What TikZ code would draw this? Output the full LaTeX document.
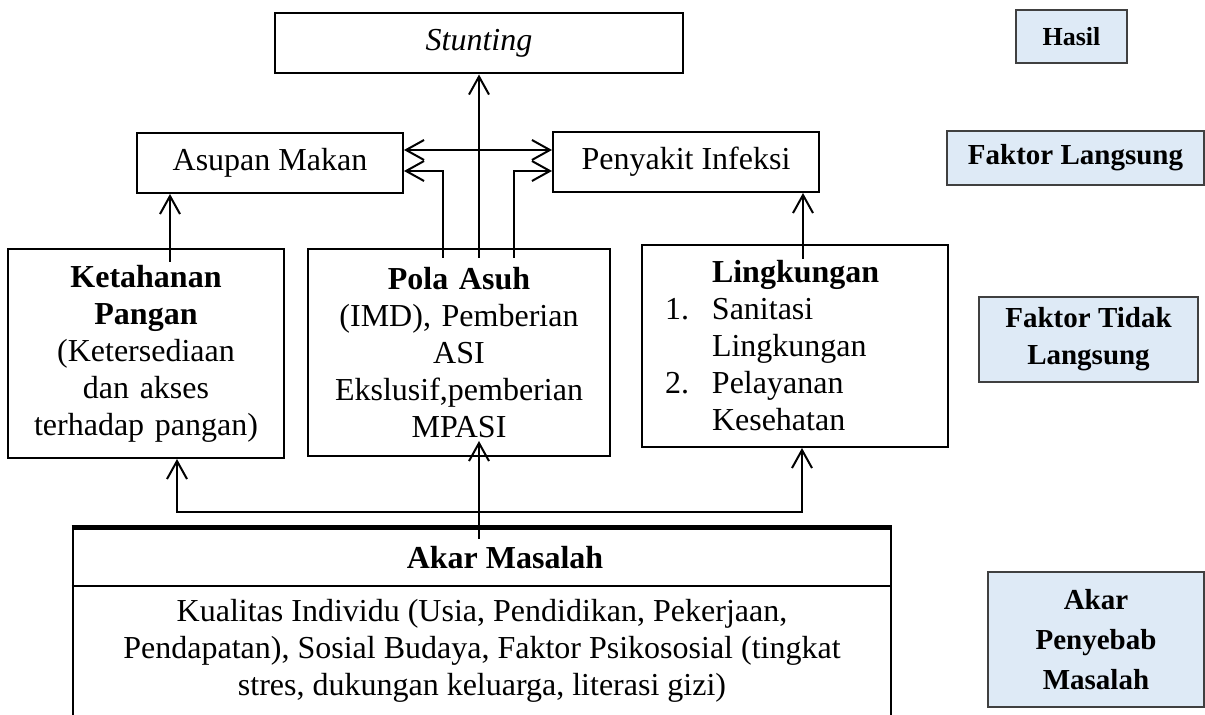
\documentclass[tikz,border=0pt]{standalone}
\usepackage{fontspec}
\setmainfont{Liberation Serif}
\usetikzlibrary{positioning, arrows.meta}
\definecolor{LabelBlue}{HTML}{DEEAF6}
\definecolor{LabelEdge}{HTML}{404040}
\tikzset{
    mainbox/.style={rectangle, draw=black, line width=1pt, inner sep=0pt, align=center, font=\fontsize{16}{18.5}\selectfont},
    labelbox/.style={rectangle, draw=LabelEdge, line width=0.7pt, fill=LabelBlue, inner sep=0pt, align=center, font=\bfseries\fontsize{14.5}{18.5}\selectfont},
    plaintext/.style={inner sep=0pt, align=center, font=\fontsize{16}{18.5}\selectfont},
    arrow/.style={-{Straight Barb[length=9pt, width=10pt]}, line width=1pt},
    twoarrow/.style={{Straight Barb[length=9pt, width=10pt]}-{Straight Barb[length=9pt, width=10pt]}, line width=1pt},
}

\begin{document}
\begin{tikzpicture}[x=0.5pt, y=-0.5pt]
    \clip (0,0) rectangle (1205,715);

    % Hasil
    \node[mainbox, minimum width=204pt, minimum height=30pt, font=\itshape\fontsize{16}{18.5}\selectfont] (stunting) at (479,43.5) {Stunting};

    % Faktor langsung
    \node[mainbox, minimum width=133pt, minimum height=30pt] (asupan) at (270,163) {Asupan Makan};
    \node[mainbox, minimum width=133pt, minimum height=30pt] (infeksi) at (686,162) {Penyakit Infeksi};

    % Faktor tidak langsung
    \node[mainbox, minimum width=138pt, minimum height=104.5pt, text width=132pt] (ketahanan) at (146,353.5)
        {\textbf{Ketahanan}\\\textbf{Pangan}\\(Ketersediaan\\dan akses\\terhadap pangan)};
    \node[mainbox, minimum width=151pt, minimum height=103.5pt, text width=148pt] (polaasuh) at (459,352.5)
        {\textbf{Pola Asuh}\\(IMD), Pemberian\\ASI\\Ekslusif,pemberian\\MPASI};
    \node[mainbox, minimum width=153pt, minimum height=101pt, text width=130pt, align=left] (lingkungan) at (795,346)
        {\hspace*{23.5pt}\textbf{Lingkungan}\\
         \makebox[23.5pt][l]{1.}Sanitasi\\
         \hspace*{23.5pt}Lingkungan\\
         \makebox[23.5pt][l]{2.}Pelayanan\\
         \hspace*{23.5pt}Kesehatan};

    % Akar masalah
    \node[mainbox, minimum width=409pt, minimum height=109.5pt, line width=1.3pt, anchor=north] (akar) at (482,527) {};
    \draw[line width=1pt] (akar.west |- 0,586) -- (akar.east |- 0,586);
    \draw[line width=1.8pt] (akar.north west) -- (akar.north east);
    \node[plaintext, font=\bfseries\fontsize{16}{18.5}\selectfont] (akarjudul) at (505,558) {Akar Masalah};
    \node[plaintext] (akarteks) at (482,651)
        {Kualitas Individu (Usia, Pendidikan, Pekerjaan,\\Pendapatan), Sosial Budaya, Faktor Psikososial (tingkat\\stres, dukungan keluarga, literasi gizi)};

    % Keterangan di kanan
    \node[labelbox, minimum width=55.5pt, minimum height=26.5pt, font=\bfseries\fontsize{13}{16}\selectfont] (hasil) at (1071.5,36.5) {Hasil};
    \node[labelbox, minimum width=128.5pt, minimum height=27pt] (langsung) at (1075.5,158) {Faktor Langsung};
    \node[labelbox, minimum width=109.5pt, minimum height=42.5pt] (tidaklangsung) at (1088.5,339.5) {Faktor Tidak\\Langsung};
    \node[labelbox, minimum width=108pt, minimum height=67.5pt, font=\bfseries\fontsize{14.5}{20}\selectfont] (penyebab) at (1096,639.5) {Akar\\Penyebab\\Masalah};

    % Panah ke atas
    \coordinate (kpangkal) at (170,262);
    \coordinate (pkiri) at (443,258);
    \coordinate (ptengah) at (479,258);
    \coordinate (pkanan) at (514,258);
    \coordinate (lpangkal) at (803,259);
    \draw[arrow] (kpangkal) -- (kpangkal |- asupan.south);
    \draw[arrow] (ptengah) -- (ptengah |- stunting.south);
    \draw[arrow] (pkiri) |- (asupan.east |- 0,171);
    \draw[arrow] (pkanan) |- (infeksi.west |- 0,171);
    \draw[arrow] (lpangkal) -- (lpangkal |- infeksi.south);
    \draw[twoarrow] (asupan.east |- 0,150) -- (infeksi.west |- 0,150);

    % Dari akar masalah
    \coordinate (apangkal) at (479,539);
    \coordinate (aujung) at (479,441);
    \coordinate (bkiri) at (177,512);
    \coordinate (bkanan) at (802,512);
    \draw[arrow] (apangkal) -- (aujung);
    \draw[twoarrow] (bkiri |- ketahanan.south) -- (bkiri) -- (bkanan) -- (bkanan |- lingkungan.south);
\end{tikzpicture}
\end{document}
